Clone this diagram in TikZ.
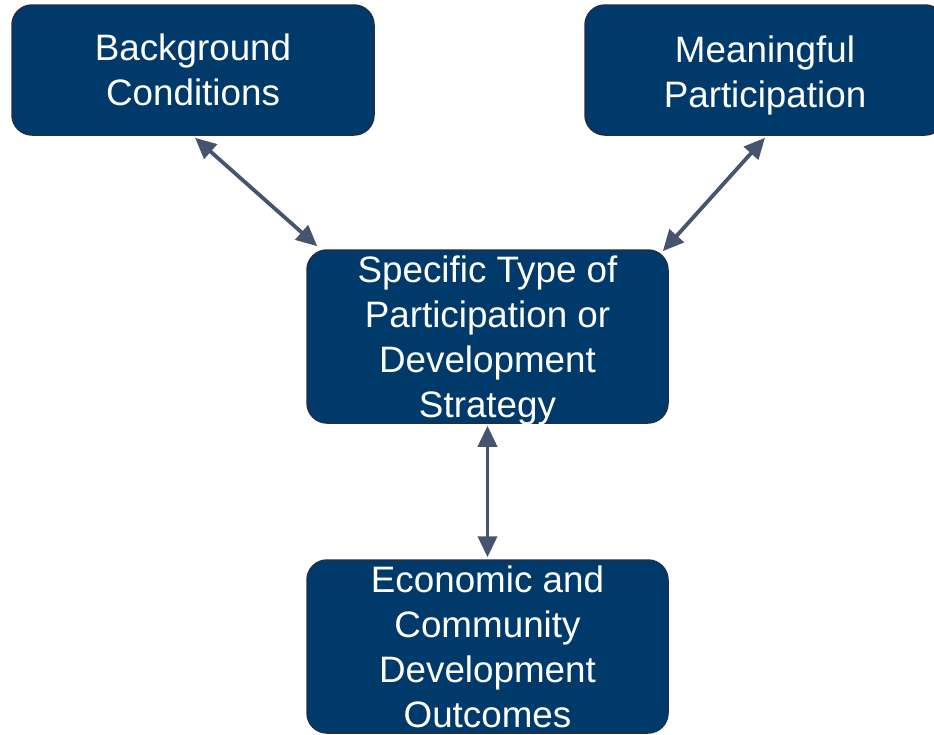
\documentclass[tikz,border=0pt]{standalone}
\usepackage{fontspec}
\setmainfont{Liberation Sans}
\usetikzlibrary{arrows.meta,calc}
\definecolor{boxfill}{RGB}{0,58,107}
\definecolor{boxedge}{RGB}{28,46,76}
\definecolor{arrowcol}{RGB}{70,84,110}
\tikzset{
  box/.style={draw=boxedge, line width=1.5pt, fill=boxfill, rounded corners=20pt,
    text=white, align=center, inner sep=0pt,
    font=\fontsize{36.8}{45}\selectfont},
  link/.style={draw=arrowcol, line width=3.8pt,
    {Triangle[length=21pt,width=19pt]}-{Triangle[length=21pt,width=19pt]}}
}
\begin{document}
\begin{tikzpicture}[x=1pt,y=-1pt]
\useasboundingbox (0,0) rectangle (934,734);
\node[box, minimum width=362pt, minimum height=130pt] (bg) at (193,70) {Background\\Conditions};
\node[box, minimum width=360pt, minimum height=130pt, text depth=0pt] (mp) at (765,70) {\raisebox{-4pt}{Meaningful}\\\raisebox{-4pt}{Participation}};
\node[box, minimum width=361pt, minimum height=173pt, text depth=0pt] (mid) at (487.5,336.5) {Specific Type of\\Participation or\\Development\\Strategy};
\node[box, minimum width=361pt, minimum height=173pt] (out) at (487.5,646.5) {Economic and\\Community\\Development\\Outcomes};
\draw[link] ($(bg.south)+(2,2)$) -- ($(mid.north west)+(11,-3)$);
\draw[link] ($(mp.south)+(0,2)$) -- ($(mid.north east)+(-6,2)$);
\draw[link] ($(mid.south)+(0,2)$) -- ($(out.north)+(0,-2)$);
\end{tikzpicture}
\end{document}
